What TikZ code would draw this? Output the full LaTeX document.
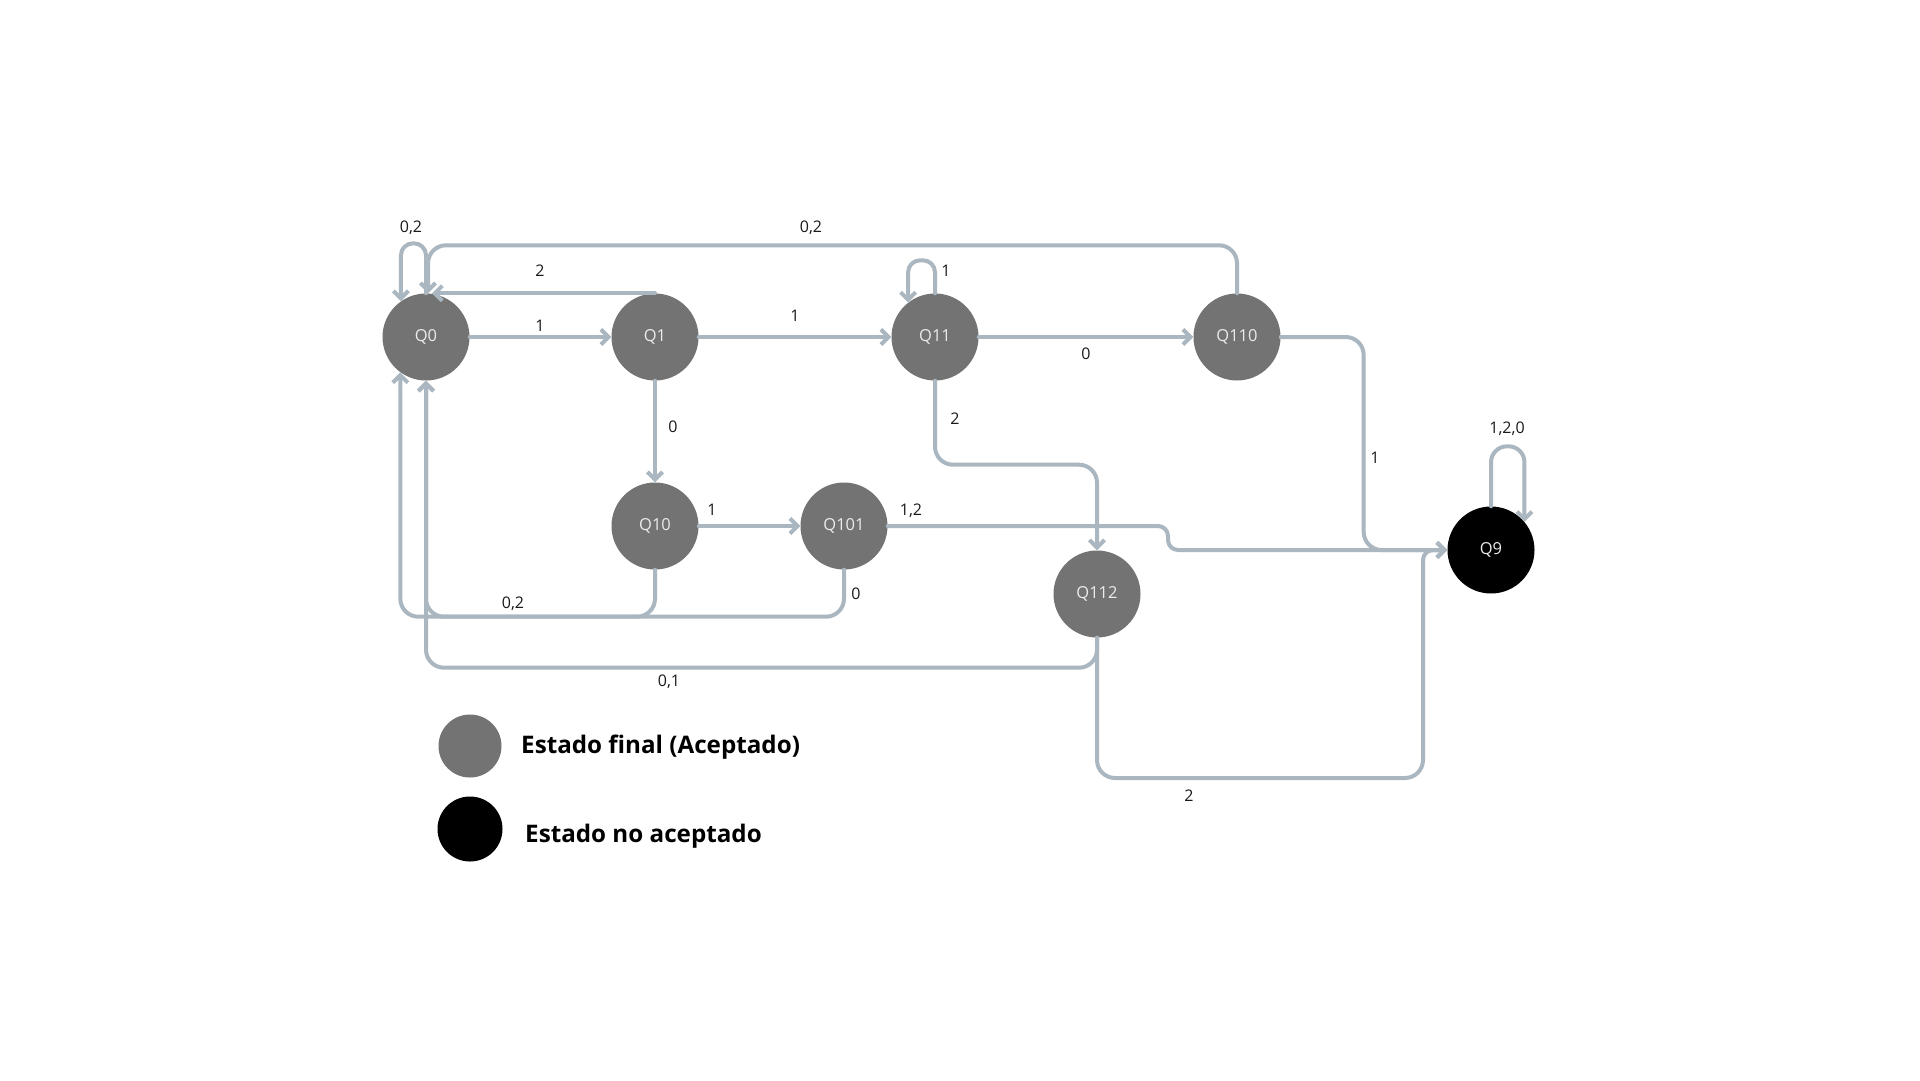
\documentclass[tikz,border=0pt]{standalone}
\usepackage{fontspec}
\setmainfont{Open Sans}
\usetikzlibrary{arrows.meta,calc}
\definecolor{edgec}{HTML}{AAB7C0}
\definecolor{nodec}{HTML}{737373}
\definecolor{txtc}{HTML}{1A1A1A}
\begin{document}
\begin{tikzpicture}[x=1pt,y=-1pt,
  state/.style={circle,fill=nodec,draw=none,minimum size=87pt,inner sep=0pt,text=white!92!black,font=\fontsize{16.5}{19}\selectfont},
  edge/.style={draw=edgec,line width=4pt,line cap=round,line join=round,rounded corners=18pt,-{Straight Barb[length=7.5pt,width=15pt]}},
  lbl/.style={text=txtc,font=\fontsize{16}{19}\selectfont,inner sep=0pt},
  legtxt/.style={text=black,font=\fontsize{24.2}{29}\selectfont\bfseries,anchor=west,inner sep=0pt}]
\useasboundingbox[fill=white] (0,0) rectangle (1920,1080);

% states
\node[state] (Q0) at (426,337) {Q0};
\node[state] (Q1) at (655,337) {Q1};
\node[state] (Q11) at (935,337) {Q11};
\node[state] (Q110) at (1237,337) {Q110};
\node[state] (Q10) at (655,526) {Q10};
\node[state] (Q101) at (844,526) {Q101};
\node[state] (Q112) at (1097,594) {Q112};
\node[state,fill=black] (Q9) at (1491,550) {Q9};

% transitions
\draw[edge] (Q0) -- (Q1);
\node[lbl] (l01) at (540,326) {1};
\draw[edge] (Q1) -- (Q11);
\node[lbl] (l111) at (795,316) {1};
\draw[edge] (Q11) -- (Q110);
\node[lbl] (l110) at (1086,354) {0};
\draw[edge] (Q1) -- (Q10);
\node[lbl] (l10) at (673,427) {0};
\draw[edge] (Q10) -- (Q101);
\node[lbl] (l101) at (712,510) {1};

% self loops
\draw[edge,rounded corners=12pt] (Q0.north) -- ++(0,-50) -| (Q0.125);
\node[lbl] (l00) at (411,228) {0,2};
\draw[edge,rounded corners=12pt] (Q11.north) -- ++(0,-33) -| (Q11.128);
\node[lbl] (l1111) at (946,271) {1};
\draw[edge,rounded corners=16pt] (Q9.north) -- ++(0,-60) -| (Q9.40);
\node[lbl] (l99) at (1507,429) {1,2,0};

% back edges to Q0
\draw[edge] (Q1.north) -- ([xshift=6pt]Q0.north);
\node[lbl] (l10b) at (540,271) {2};
\draw[edge] (Q110.north) -- ++(0,-48) -| ([xshift=2pt]Q0.north);
\node[lbl] (l1100) at (811,228) {0,2};
\draw[edge] (Q10.south) -- ++(0,47) -| (Q0.south);
\node[lbl] (l100) at (513,604) {0,2};
\draw[edge] (Q101.south) -- ++(0,47) -| (Q0.234);
\node[lbl] (l1010) at (856,594) {0};
\draw[edge] (Q112.south) -- ++(0,30) -| (Q0.south);
\node[lbl] (l1120) at (669,682) {0,1};

% to Q112
\draw[edge] (Q11.south) -- ++(0,84) -| (Q112.north);
\node[lbl] (l112) at (955,419) {2};

% to Q9
\coordinate (j1) at (1168,526);
\coordinate (j2) at (1168,550);
\draw[edge,rounded corners=10pt] (Q101.east) -- (j1) -- (j2) -- (Q9.west);
\node[lbl] (l1019) at (911,511) {1,2};
\draw[edge] (Q110.east) -- ++(83,0) |- (Q9.west);
\node[lbl] (l1109) at (1375,458) {1};
\coordinate (c1) at (1423,778);
\draw[edge] (Q112.south) |- (c1) [rounded corners=10pt] |- (Q9.west);
\node[lbl] (l1129) at (1189,796) {2};

% legend
\node[circle,fill=nodec,minimum size=63pt,inner sep=0pt] (lg1) at (470,746) {};
\node[legtxt] (lt1) at (521,747) {Estado final (Aceptado)};
\node[circle,fill=black,minimum size=65pt,inner sep=0pt] (lg2) at (470,829) {};
\node[legtxt] (lt2) at (525,836) {Estado no aceptado};
\end{tikzpicture}
\end{document}
